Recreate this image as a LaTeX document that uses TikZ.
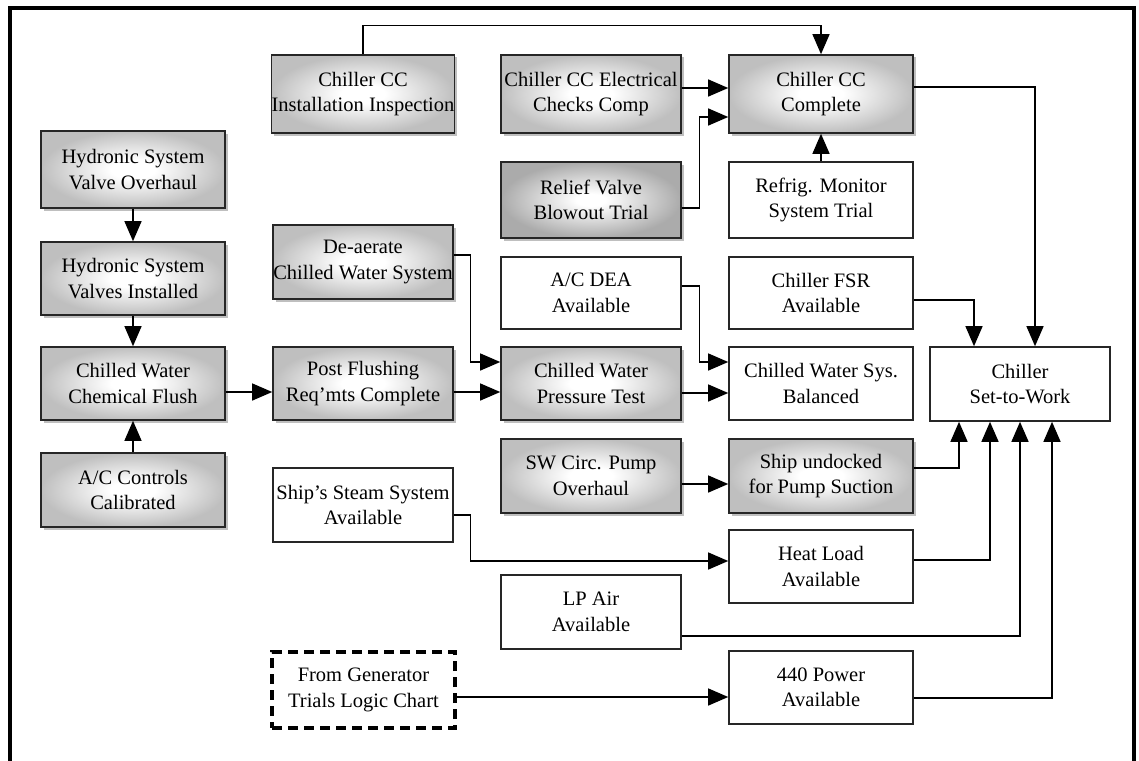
\documentclass[tikz,border=0pt]{standalone}
\usepackage{fontspec}
\setmainfont{Liberation Serif}
\usetikzlibrary{arrows.meta,shadows}
\pgfdeclareradialshading{boxshade}{\pgfpoint{0bp}{0bp}}{color(0bp)=(white); color(6bp)=(white); color(25bp)=(black!25); color(50bp)=(black!25)}
\pgfdeclareradialshading{boxshadedark}{\pgfpoint{0bp}{0bp}}{color(0bp)=(white); color(4bp)=(white); color(25bp)=(black!33); color(50bp)=(black!33)}
\begin{document}
\begin{tikzpicture}[x=1pt,y=-1pt,
  base/.style={draw=black!85, line width=1.6pt, inner sep=0pt, align=center,
    font=\fontsize{20.5}{25.5}\selectfont},
  wbox/.style={base, fill=white},
  gbox/.style={base, shade, shading=boxshade,
    general shadow={fill=black!25, shadow xshift=2.5pt, shadow yshift=-2.5pt}},
  dbox/.style={gbox, shading=boxshadedark},
  xbox/.style={base, draw=black, line width=3.2pt, dash pattern=on 10pt off 6pt, fill=white},
  arr/.style={draw=black, line width=1.3pt, -{Triangle[length=20pt,width=17pt]}}]
\useasboundingbox (0,0) rectangle (1139,760);
\draw[line width=3.5pt] (10,790) -- (10,8) -- (1134,8) -- (1134,790);

% column A
\node[gbox, minimum width=184pt, minimum height=77pt] (hvo) at (133,169.5) {Hydronic System\\Valve Overhaul};
\node[gbox, minimum width=184pt, minimum height=73pt] (hvi) at (133,278.5) {Hydronic System\\Valves Installed};
\node[gbox, minimum width=184pt, minimum height=73pt] (cwcf) at (133,383.5) {Chilled Water\\Chemical Flush};
\node[gbox, minimum width=184pt, minimum height=74pt] (acc) at (133,490) {A/C Controls\\Calibrated};

% column B
\node[gbox, minimum width=180pt, minimum height=78pt] (ccii) at (363,94) {Chiller CC\\Installation Inspection};
\node[gbox, minimum width=180pt, minimum height=74pt] (dea) at (363,262) {De-aerate\\Chilled Water System};
\node[gbox, minimum width=180pt, minimum height=73pt] (pfr) at (363,383.5) {Post Flushing\\Req’mts Complete};
\node[wbox, minimum width=180pt, minimum height=74pt] (sss) at (363,505) {Ship’s Steam System\\Available};
\node[xbox, minimum width=183pt, minimum height=76pt] (fgt) at (363.5,690) {From Generator\\Trials Logic Chart};

% column C
\node[gbox, minimum width=180pt, minimum height=78pt] (ccce) at (591,94) {Chiller CC Electrical\\Checks Comp};
\node[dbox, minimum width=180pt, minimum height=76pt] (rvb) at (591,200) {Relief Valve\\Blowout Trial};
\node[wbox, minimum width=180pt, minimum height=72pt] (acdea) at (591,293) {A/C DEA\\Available};
\node[gbox, minimum width=180pt, minimum height=73pt] (cwpt) at (591,383.5) {Chilled Water\\Pressure Test};
\node[gbox, minimum width=180pt, minimum height=74pt] (swc) at (591,476) {SW Circ. Pump\\Overhaul};
\node[wbox, minimum width=180pt, minimum height=74pt] (lpa) at (591,612) {LP Air\\Available};

% column D
\node[gbox, minimum width=184pt, minimum height=78pt] (cccc) at (821,94) {Chiller CC\\Complete};
\node[wbox, minimum width=184pt, minimum height=76pt] (rms) at (821,200) {Refrig. Monitor\\System Trial};
\node[wbox, minimum width=184pt, minimum height=72pt] (fsr) at (821,293) {Chiller FSR\\Available};
\node[wbox, minimum width=184pt, minimum height=73pt] (cwsb) at (821,383.5) {Chilled Water Sys.\\Balanced};
\node[gbox, minimum width=184pt, minimum height=74pt] (sup) at (821,476) {Ship undocked\\for Pump Suction};
\node[wbox, minimum width=184pt, minimum height=73pt] (hla) at (821,566.5) {Heat Load\\Available};
\node[wbox, minimum width=184pt, minimum height=73pt] (p440) at (821,687.5) {440 Power\\Available};

% target
\node[wbox, minimum width=180pt, minimum height=74pt] (stw) at (1020,384) {Chiller\\Set-to-Work};

% connectors
\draw[arr] (ccii.north) -- ++(0,-29) -| (cccc.north);
\draw[arr] (ccce.east |- 0,88) -- (cccc.west |- 0,88);
\draw[arr] (rvb.east |- 0,208) -- ++(18,0) |- (cccc.west |- 0,117);
\draw[arr] (rms.north) -- (cccc.south);
\draw[arr] (cccc.east |- 0,87) -| ([xshift=15pt]stw.north);
\draw[arr] (fsr.east |- 0,300) -| ([xshift=-46pt]stw.north);
\draw[arr] (dea.east |- 0,255) -- ++(17,0) |- (cwpt.west |- 0,362);
\draw[arr] (pfr.east |- 0,392) -- (cwpt.west |- 0,392);
\draw[arr] (cwcf.east |- 0,392) -- (pfr.west |- 0,392);
\draw[arr] (hvo.south) -- (hvi.north);
\draw[arr] (hvi.south) -- (cwcf.north);
\draw[arr] (acc.north) -- (cwcf.south);
\draw[arr] (acdea.east |- 0,286) -- ++(18,0) |- (cwsb.west |- 0,362);
\draw[arr] (cwpt.east |- 0,393) -- (cwsb.west |- 0,393);
\draw[arr] (swc.east |- 0,484) -- (sup.west |- 0,484);
\draw[arr] (sup.east |- 0,468) -| ([xshift=-61pt]stw.south);
\draw[arr] (sss.east |- 0,515) -- ++(17,0) |- (hla.west |- 0,561);
\draw[arr] (hla.east |- 0,560) -| ([xshift=-30pt]stw.south);
\draw[arr] (lpa.east |- 0,636) -| (stw.south);
\draw[arr] (fgt.east |- 0,697) -- (p440.west |- 0,697);
\draw[arr] (p440.east |- 0,698) -| ([xshift=32pt]stw.south);
\end{tikzpicture}
\end{document}
